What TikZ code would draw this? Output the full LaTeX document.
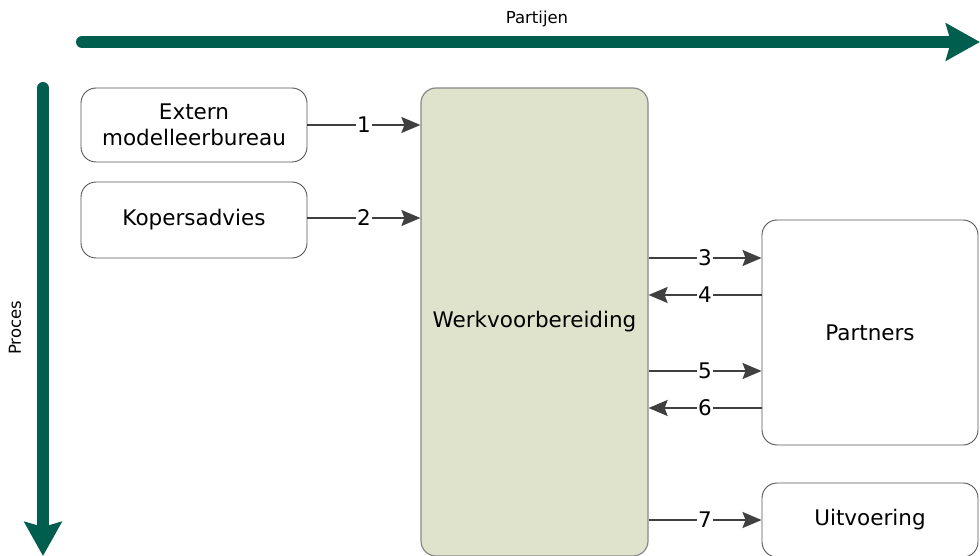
\documentclass[tikz,border=0pt]{standalone}
\usepackage{fontspec}
\setmainfont{DejaVu Sans}
\usetikzlibrary{arrows.meta}
\definecolor{axisgreen}{RGB}{0,94,78}
\definecolor{wvfill}{RGB}{223,227,203}
\definecolor{wvline}{RGB}{136,136,136}
\definecolor{boxline}{RGB}{85,85,85}
\definecolor{connline}{RGB}{64,64,64}
\begin{document}
\begin{tikzpicture}[x=1pt,y=-1pt,
  box/.style={draw=boxline, line width=0.9pt, rounded corners=15pt, fill=white,
    align=center, inner sep=0pt, font=\fontsize{21.5}{26}\selectfont},
  mainbox/.style={box, draw=wvline, line width=1.2pt, fill=wvfill},
  axisarrow/.style={draw=axisgreen, line width=12pt, line cap=round,
    -{Stealth[length=34pt,width=37pt,inset=5pt]}},
  conn/.style={draw=connline, line width=2pt, -{Stealth[length=19pt,width=16pt,inset=3pt]}},
  numlbl/.style={fill=white, inner sep=1pt, font=\fontsize{21.5}{24}\selectfont},
  axislbl/.style={font=\fontsize{16.5}{19}\selectfont}
]
\useasboundingbox (0,0) rectangle (980,556);

% axes
\coordinate (hstart) at (82,42);
\coordinate (hend) at (980,42);
\coordinate (vstart) at (43,88);
\coordinate (vend) at (43,556);
\draw[axisarrow] (hstart) -- (hend);
\draw[axisarrow] (vstart) -- (vend);
\node[axislbl] (partijen) at (537,19) {Partijen};
\node[axislbl, rotate=90] (proces) at (15,328) {Proces};

% boxes
\node[box, minimum width=226pt, minimum height=74pt] (ext) at (194,125)
  {Extern\\modelleerbureau};
\node[box, minimum width=226pt, minimum height=76pt] (kop) at (194,220) {Kopersadvies};
\node[mainbox, minimum width=227pt, minimum height=468pt] (wv) at (534.5,322)
  {Werkvoorbereiding};
\node[box, minimum width=216pt, minimum height=225pt] (partners) at (870,332.5) {Partners};
\node[box, minimum width=216pt, minimum height=74pt] (uit) at (870,520) {Uitvoering};

% connector rows
\coordinate (r1) at (0,125);
\coordinate (r2) at (0,218);
\coordinate (r3) at (0,258);
\coordinate (r4) at (0,295);
\coordinate (r5) at (0,371);
\coordinate (r6) at (0,408);
\coordinate (r7) at (0,520);

\draw[conn] (ext.east |- r1) -- node[numlbl] {1} (wv.west |- r1);
\draw[conn] (kop.east |- r2) -- node[numlbl] {2} (wv.west |- r2);
\draw[conn] (wv.east |- r3) -- node[numlbl] {3} (partners.west |- r3);
\draw[conn] (partners.west |- r4) -- node[numlbl] {4} (wv.east |- r4);
\draw[conn] (wv.east |- r5) -- node[numlbl] {5} (partners.west |- r5);
\draw[conn] (partners.west |- r6) -- node[numlbl] {6} (wv.east |- r6);
\draw[conn] (wv.east |- r7) -- node[numlbl] {7} (uit.west |- r7);
\end{tikzpicture}
\end{document}
